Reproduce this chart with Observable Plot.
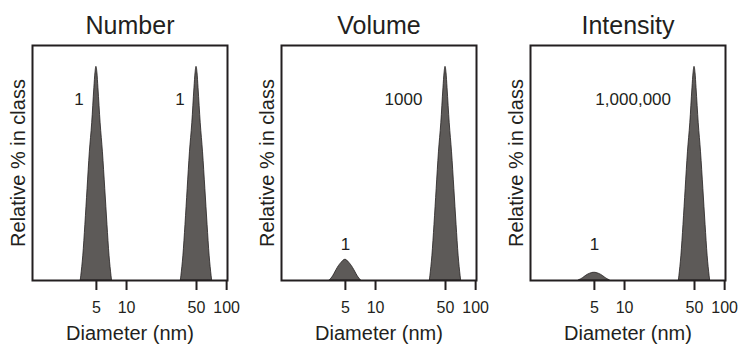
<!DOCTYPE html>
<html>
<head>
<meta charset="utf-8">
<script src="https://cdn.jsdelivr.net/npm/d3@7"></script>
<script src="https://cdn.jsdelivr.net/npm/@observablehq/plot@0.6"></script>
<style>
  html, body { margin: 0; padding: 0; background: #fff; overflow: hidden; }
  #wrap { position: relative; width: 740px; height: 347px; overflow: hidden; }
  .panel { position: absolute; top: 0; width: 246px; height: 347px; }
  .panel svg { max-width: none !important; }
</style>
</head>
<body>
<div id="wrap"></div>
<script>
// Diameters (nm) sampled across each peak
const smallD = [3.49, 3.53, 3.70, 3.88, 4.08, 4.30, 4.54, 4.77, 4.89, 5, 5.12, 5.24, 5.51, 5.81, 6.13, 6.45, 6.76, 7.08, 7.16];
const largeD = [34.9, 35.3, 37.0, 38.8, 40.8, 43.0, 45.4, 47.7, 48.9, 50, 51.2, 52.4, 55.1, 58.1, 61.3, 64.5, 67.6, 70.8, 71.6];

// Relative % in class
const numberSmall    = [0, 2, 11.6, 26, 42.8, 60, 73.6, 90, 97, 100, 97, 90, 73.6, 60, 42.8, 26, 11.6, 2, 0];
const numberLarge    = [0, 2, 11.6, 26, 42.8, 60, 73.6, 90, 97, 100, 97, 90, 73.6, 60, 42.8, 26, 11.6, 2, 0];
const volumeSmall    = [0, 0.3, 1.4, 3.0, 4.9, 6.7, 8.1, 9.2, 9.6, 9.7, 9.6, 9.2, 8.1, 6.7, 4.9, 3.0, 1.4, 0.3, 0];
const volumeLarge    = [0, 2, 11.6, 26, 42.8, 60, 73.6, 90, 97, 100, 97, 90, 73.6, 60, 42.8, 26, 11.6, 2, 0];
const intensitySmall = [0, 0.15, 0.6, 1.2, 2.0, 2.7, 3.2, 3.5, 3.6, 3.6, 3.6, 3.5, 3.2, 2.7, 2.0, 1.2, 0.6, 0.15, 0];
const intensityLarge = [0, 2, 11.6, 26, 42.8, 60, 73.6, 90, 97, 100, 97, 90, 73.6, 60, 42.8, 26, 11.6, 2, 0];

// Tick values and labels
const xTicks = [5, 10, 50, 100];
const titles = ["Number", "Volume", "Intensity"];
const yLabel = "Relative % in class";
const xLabel = "Diameter (nm)";

// Peak annotations (diameter, relative %, text)
const labelsNumber    = [{d: 3.35, y: 84.7, text: "1"}, {d: 34.2, y: 84.7, text: "1"}];
const labelsVolume    = [{d: 5, y: 16.9, text: "1"}, {d: 19, y: 84.5, text: "1000"}];
const labelsIntensity = [{d: 5, y: 16.9, text: "1"}, {d: 12.2, y: 84.5, text: "1,000,000"}];

const panels = [
  {title: titles[0], small: numberSmall, large: numberLarge, labels: labelsNumber},
  {title: titles[1], small: volumeSmall, large: volumeLarge, labels: labelsVolume},
  {title: titles[2], small: intensitySmall, large: intensityLarge, labels: labelsIntensity}
];

const ink = "#231f20";
const font = "'Liberation Sans', Arial, Helvetica, sans-serif";

function makePanel(p) {
  const data = [
    ...smallD.map((d, i) => ({d, v: p.small[i], peak: "a"})),
    ...largeD.map((d, i) => ({d, v: p.large[i], peak: "b"}))
  ];
  return Plot.plot({
    width: 246,
    height: 347,
    marginLeft: 32,
    marginRight: 19,
    marginTop: 45,
    marginBottom: 67,
    x: {type: "log", domain: [1.15, 102]},
    y: {domain: [0, 110], axis: null},
    style: {fontFamily: font, color: ink, background: "transparent", overflow: "visible"},
    marks: [
      Plot.areaY(data, {x: "d", y: "v", z: "peak", fill: "#5d5a58", stroke: ink, strokeWidth: 0.8, curve: "monotone-x"}),
      Plot.frame({stroke: ink, strokeWidth: 2}),
      Plot.axisX({ticks: xTicks, tickFormat: d => String(d), tickSize: 10, tickPadding: 11, strokeWidth: 2, fontSize: 16, label: null, stroke: ink, fill: ink}),
      Plot.text([p.title], {frameAnchor: "top", lineAnchor: "middle", dy: -20, fontSize: 25, fill: ink}),
      Plot.text([yLabel], {frameAnchor: "left", textAnchor: "middle", lineAnchor: "middle", rotate: -90, dx: -14, fontSize: 20, fill: ink}),
      Plot.text([xLabel], {frameAnchor: "bottom", lineAnchor: "middle", dy: 53, fontSize: 20, fill: ink}),
      Plot.text(p.labels, {x: "d", y: "y", text: "text", fontSize: 17, fill: ink})
    ]
  });
}

const wrap = document.getElementById("wrap");
panels.forEach((p, i) => {
  const div = document.createElement("div");
  div.className = "panel";
  div.style.left = (i * 249) + "px";
  div.appendChild(makePanel(p));
  wrap.appendChild(div);
});
</script>
</body>
</html>
